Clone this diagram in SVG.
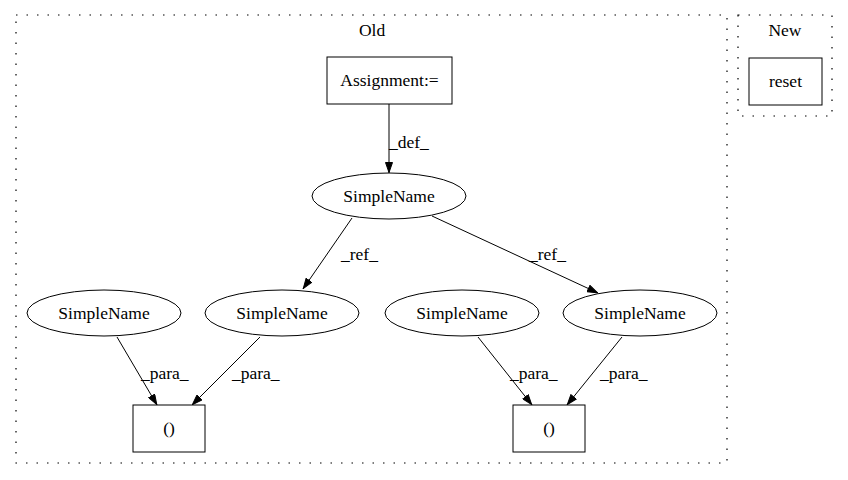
<svg xmlns="http://www.w3.org/2000/svg" width="848" height="480" viewBox="0 0 848 480">
<style>
.c{fill:none;stroke:#000;stroke-width:1.2;stroke-dasharray:1.5,9}
.n{fill:#fff;stroke:#000;stroke-width:1}
.e{fill:none;stroke:#000;stroke-width:1}
</style>
<defs>
<marker id="ah" markerWidth="11" markerHeight="8" refX="11" refY="4" orient="auto" markerUnits="userSpaceOnUse">
<path d="M0.5,0.5 L10.5,4 L0.5,7.5 z" fill="#000" stroke="#000"/>
</marker>
</defs>
<rect fill="#fff" width="848" height="480"/>
<g font-family="Liberation Serif, Times New Roman, serif" font-size="17.5" fill="#000">
<g id="cluster_old">
<rect class="c" x="16" y="15" width="711" height="448"/>
<text x="372" y="36" text-anchor="middle">Old</text>
</g>
<g id="cluster_new">
<rect class="c" x="738" y="15" width="94" height="101"/>
<text x="785" y="36" text-anchor="middle">New</text>
</g>
<g id="edges">
<path class="e" d="M389,104 L389,173" marker-end="url(#ah)"/>
<text x="389" y="148">_def_</text>
<path class="e" d="M352,218 L303,289" marker-end="url(#ah)"/>
<text x="341" y="260">_ref_</text>
<path class="e" d="M432,216 L598,293" marker-end="url(#ah)"/>
<text x="529" y="260">_ref_</text>
<path class="e" d="M117,337 L157,405" marker-end="url(#ah)"/>
<text x="141" y="379">_para_</text>
<path class="e" d="M260,337 L192,405" marker-end="url(#ah)"/>
<text x="232" y="379">_para_</text>
<path class="e" d="M478,337 L532,405" marker-end="url(#ah)"/>
<text x="510" y="379">_para_</text>
<path class="e" d="M622,337 L567,405" marker-end="url(#ah)"/>
<text x="600" y="379">_para_</text>
</g>
<g id="assign">
<rect class="n" x="327" y="57" width="125" height="47"/>
<text x="389.5" y="86" text-anchor="middle">Assignment:=</text>
</g>
<g id="sn_top">
<ellipse class="n" cx="389" cy="196" rx="77" ry="23"/>
<text x="389" y="202" text-anchor="middle">SimpleName</text>
</g>
<g id="sn_1">
<ellipse class="n" cx="104" cy="313" rx="77" ry="23"/>
<text x="104" y="319" text-anchor="middle">SimpleName</text>
</g>
<g id="sn_2">
<ellipse class="n" cx="282" cy="313" rx="77" ry="23"/>
<text x="282" y="319" text-anchor="middle">SimpleName</text>
</g>
<g id="sn_3">
<ellipse class="n" cx="462" cy="313" rx="77" ry="23"/>
<text x="462" y="319" text-anchor="middle">SimpleName</text>
</g>
<g id="sn_4">
<ellipse class="n" cx="640" cy="313" rx="77" ry="23"/>
<text x="640" y="319" text-anchor="middle">SimpleName</text>
</g>
<g id="call_1">
<rect class="n" x="133" y="405" width="72" height="47"/>
<text x="169" y="434" text-anchor="middle">()</text>
</g>
<g id="call_2">
<rect class="n" x="513" y="405" width="72" height="47"/>
<text x="549" y="434" text-anchor="middle">()</text>
</g>
<g id="reset">
<rect class="n" x="749" y="58" width="73" height="47"/>
<text x="785.5" y="87" text-anchor="middle">reset</text>
</g>
</g>
</svg>
